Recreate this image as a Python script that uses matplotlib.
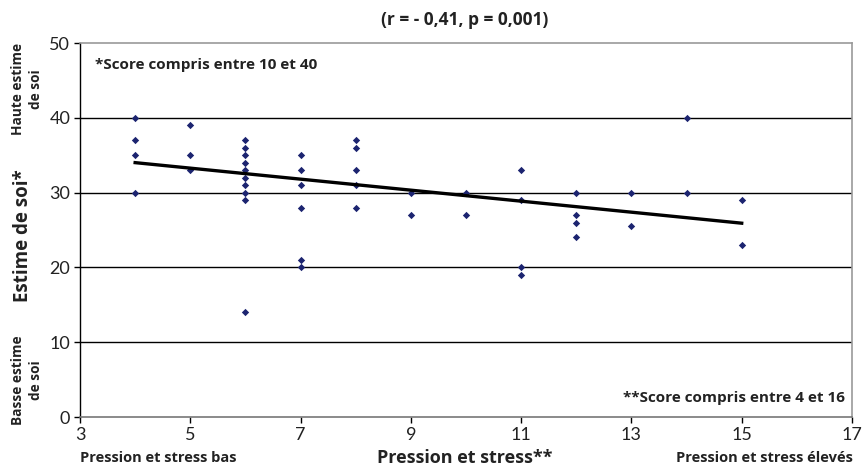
import matplotlib
matplotlib.use("Agg")
import matplotlib.pyplot as plt
import numpy as np

# ---- data ----
stress = [4, 4, 4, 4,
          5, 5, 5,
          6, 6, 6, 6, 6, 6, 6, 6, 6, 6,
          7, 7, 7, 7, 7, 7,
          8, 8, 8, 8, 8,
          9, 9,
          10, 10,
          11, 11, 11, 11,
          12, 12, 12, 12,
          13, 13,
          14, 14,
          15, 15]
estime = [40, 37, 35, 30,
          39, 35, 33,
          37, 36, 35, 34, 33, 32, 31, 30, 29, 14,
          35, 33, 31, 28, 21, 20,
          37, 36, 33, 31, 28,
          30, 27,
          30, 27,
          33, 29, 20, 19,
          30, 27, 26, 24,
          30, 25.5,
          40, 30,
          29, 23]
trend_slope = -0.736
trend_intercept = 36.95
x_ticks = [3, 5, 7, 9, 11, 13, 15, 17]
y_ticks = [0, 10, 20, 30, 40, 50]

title = "(r = - 0,41, p = 0,001)"
note_y = "*Score compris entre 10 et 40"
note_x = "**Score compris entre 4 et 16"
xlabel = "Pression et stress**"
x_low = "Pression et stress bas"
x_high = "Pression et stress élevés"
ylabel = "Estime de soi*"
y_high = "Haute estime\nde soi"
y_low = "Basse estime\nde soi"

W, H = 863, 469
fig = plt.figure(figsize=(W / 100, H / 100), dpi=100)
ax = fig.add_axes([80 / W, 1 - 417 / H, (852 - 80) / W, (417 - 43) / H])

navy = "#1c2470"
ax.scatter(stress, estime, marker="D", s=14, color=navy, zorder=3, linewidths=0)
xs = np.array([min(stress), max(stress)])
ax.plot(xs, trend_slope * xs + trend_intercept, color="black", lw=2.4, zorder=4)

ax.set_xlim(3, 17)
ax.set_ylim(0, 50)
ax.set_xticks(x_ticks)
ax.set_yticks(y_ticks)
for y in y_ticks[1:-1]:
    ax.axhline(y, color="black", lw=1.0, zorder=1)

for s in ["top", "right"]:
    ax.spines[s].set_color("#999999")
    ax.spines[s].set_linewidth(1.2)
ax.spines["left"].set_color("black")
ax.spines["bottom"].set_color("#777777")
ax.spines["left"].set_linewidth(1.0)
ax.spines["bottom"].set_linewidth(1.2)

ax.tick_params(axis="both", direction="out", length=4, width=1, color="black",
               labelsize=13, pad=3, labelcolor="#222222")
for lab in ax.get_xticklabels() + ax.get_yticklabels():
    lab.set_family("Lato")

bold = dict(family="Open Sans", fontweight="bold", color="#222222")
fig.text(465 / W, 1 - 20 / H, title, ha="center", va="center", fontsize=12.5, **bold)
fig.text(95 / W, 1 - 65 / H, note_y, ha="left", va="center", fontsize=11, **bold)
fig.text(845 / W, 1 - 398 / H, note_x, ha="right", va="center", fontsize=11, **bold)
fig.text(80 / W, 1 - 458 / H, x_low, ha="left", va="center", fontsize=10.5, **bold)
fig.text(853 / W, 1 - 458 / H, x_high, ha="right", va="center", fontsize=10.5, **bold)
fig.text(465 / W, 1 - 458 / H, xlabel, ha="center", va="center", fontsize=13, **bold)
fig.text(23 / W, 1 - 236 / H, ylabel, ha="center", va="center", fontsize=13.5,
         rotation=90, **bold)
fig.text(27 / W, 1 - 89 / H, y_high, ha="center", va="center", fontsize=9.8,
         rotation=90, linespacing=1.35, **bold)
fig.text(27 / W, 1 - 380 / H, y_low, ha="center", va="center", fontsize=9.8,
         rotation=90, linespacing=1.35, **bold)

fig.savefig("out.png", dpi=100)
